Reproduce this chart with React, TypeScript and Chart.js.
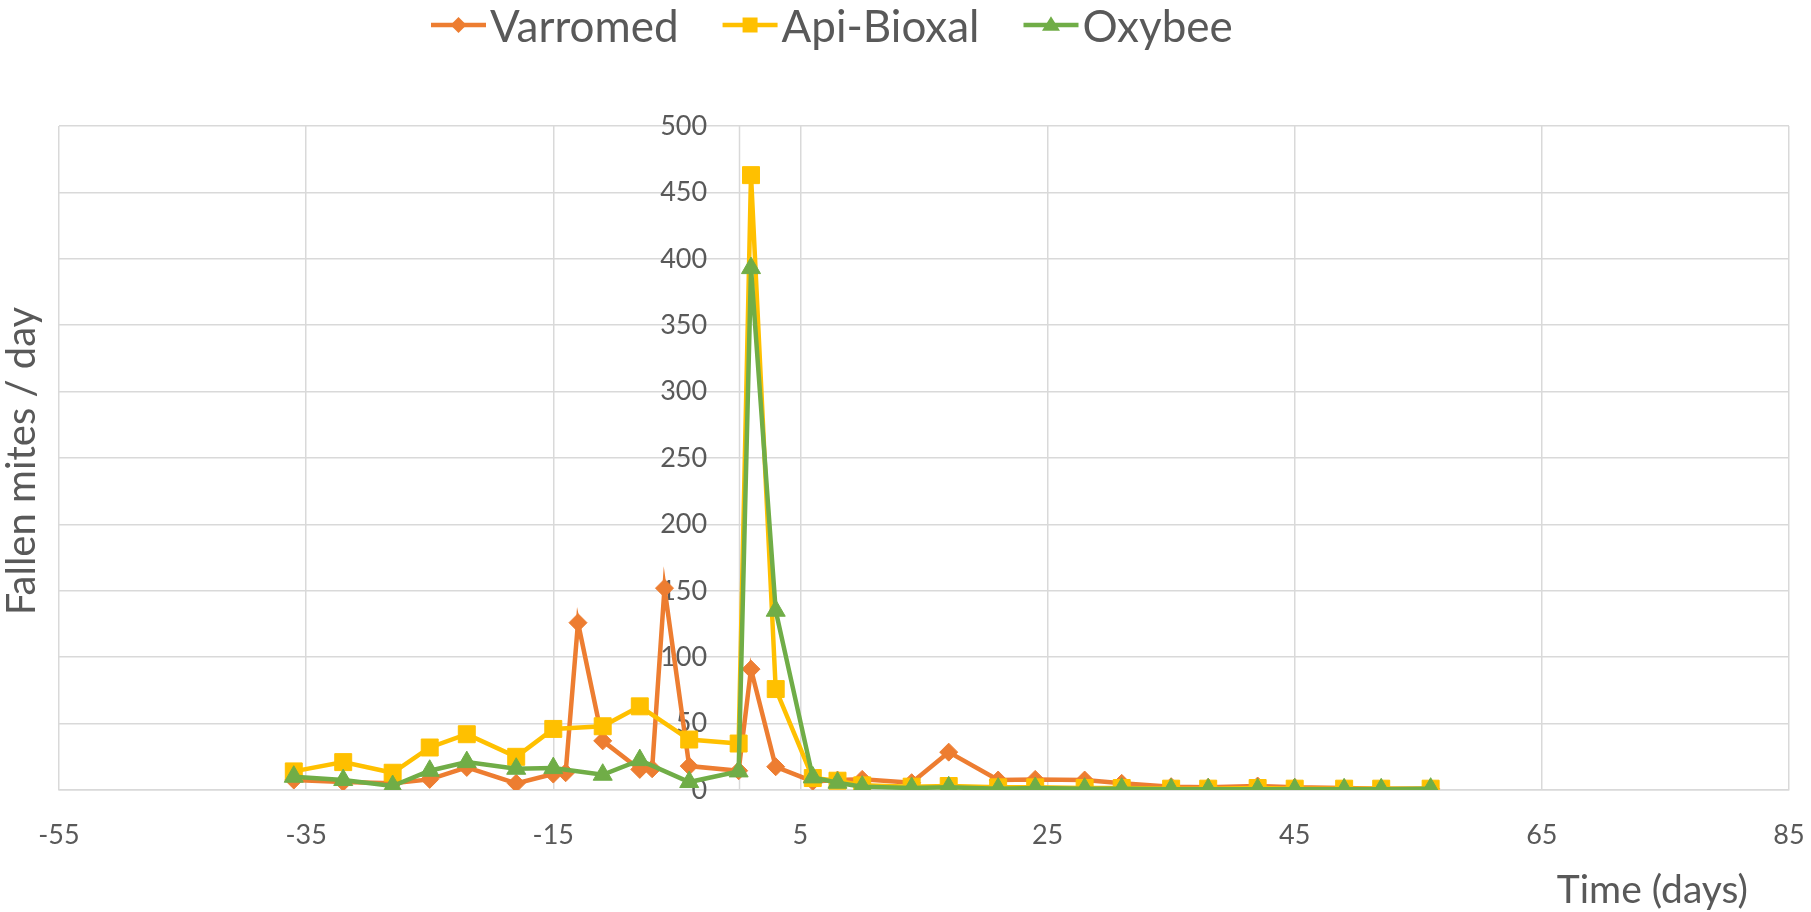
import React, { useEffect, useRef } from "react";
import { Chart, registerables } from "chart.js";

Chart.register(...registerables);

// ---------- data ----------
const seriesNames = ["Varromed", "Api-Bioxal", "Oxybee"];

const varromedDays = [-36, -32, -28, -25, -22, -18, -15, -14, -13, -11, -8, -7, -6, -4, 0, 1, 3, 6, 8, 10, 14, 17, 21, 24, 28, 31, 35, 38, 42, 45, 49, 52, 56];
const varromedValues = [7.5, 6, 5, 8, 17, 5, 12, 13, 126, 37, 15.5, 16, 152, 18, 14.5, 91, 17.5, 6.5, 7.5, 8, 5.5, 28.5, 7.5, 8, 7.5, 5, 2.5, 2, 3, 2, 1.5, 1, 1];

const apiBioxalDays = [-36, -32, -28, -25, -22, -18, -15, -11, -8, -4, 0, 1, 3, 6, 8, 10, 14, 17, 21, 24, 28, 31, 35, 38, 42, 45, 49, 52, 56];
const apiBioxalValues = [14, 21, 13, 32, 42, 25, 46, 48, 63, 38, 35, 463, 76, 9, 7, 3.5, 2.5, 3, 2, 2, 1.5, 1.5, 1, 1, 1.5, 1, 1, 1, 1];

const oxybeeDays = [-36, -32, -28, -25, -22, -18, -15, -11, -8, -4, 0, 1, 3, 6, 8, 10, 14, 17, 21, 24, 28, 31, 35, 38, 42, 45, 49, 52, 56];
const oxybeeValues = [10, 7.5, 3, 14.5, 21, 16, 16.5, 11.5, 22.5, 6, 14, 393, 135, 9.5, 5.5, 2.5, 1.5, 2, 1, 1.5, 1, 1, 0.5, 0.5, 0.5, 0.5, 0.5, 0.5, 1];

const xMin = -55;
const xMax = 85;
const xStep = 20;
const yMin = 0;
const yMax = 500;
const yStep = 50;
const yAxisCrossesAt = 0;

const xTitle = "Time (days)";
const yTitle = "Fallen mites / day";

// ---------- styles ----------
const colors = ["#ED7D31", "#FFC000", "#70AD47"];
const pointStyles = ["rectRot", "rect", "triangle"];
const pointRadii = [9, 12, 11];
const textColor = "#595959";
const gridColor = "#d9d9d9";
const FONT = "Lato, 'Open Sans', sans-serif";
const yLabelGapDays = 2.55; // shifts y tick labels left of the y axis line

function toPoints(xs: number[], ys: number[]) {
  return xs.map((x, i) => ({ x, y: ys[i] }));
}

function drawMarker(ctx: CanvasRenderingContext2D, style: string, x: number, y: number, r: number, color: string) {
  ctx.fillStyle = color;
  ctx.beginPath();
  if (style === "rectRot") {
    ctx.moveTo(x, y - r);
    ctx.lineTo(x + r, y);
    ctx.lineTo(x, y + r);
    ctx.lineTo(x - r, y);
  } else if (style === "rect") {
    ctx.rect(x - r, y - r, 2 * r, 2 * r);
  } else {
    const h = r * 1.6;
    ctx.moveTo(x, y - h * 0.6);
    ctx.lineTo(x + r, y + h * 0.4);
    ctx.lineTo(x - r, y + h * 0.4);
  }
  ctx.closePath();
  ctx.fill();
}

const yAxisLinePlugin = {
  id: "yAxisLine",
  beforeDatasetsDraw(chart: any) {
    const ctx: CanvasRenderingContext2D = chart.ctx;
    const { top, bottom } = chart.chartArea;
    const px = Math.round(chart.scales.x.getPixelForValue(yAxisCrossesAt)) + 0.5;
    ctx.save();
    ctx.strokeStyle = gridColor;
    ctx.lineWidth = 1.5;
    ctx.beginPath();
    ctx.moveTo(px, top);
    ctx.lineTo(px, bottom);
    ctx.stroke();
    ctx.restore();
  },
};

const overlayPlugin = {
  id: "overlayText",
  afterDraw(chart: any) {
    const ctx: CanvasRenderingContext2D = chart.ctx;
    ctx.save();
    // legend
    ctx.font = `44px ${FONT}`;
    let x = 431;
    const ly = 25;
    const legendMarkerSizes = [8, 7.5, 9];
    seriesNames.forEach((name, i) => {
      ctx.strokeStyle = colors[i];
      ctx.lineWidth = 4.5;
      ctx.beginPath();
      ctx.moveTo(x, ly);
      ctx.lineTo(x + 55, ly);
      ctx.stroke();
      drawMarker(ctx, pointStyles[i], x + 27.5, ly, legendMarkerSizes[i], colors[i]);
      ctx.fillStyle = textColor;
      ctx.textAlign = "left";
      ctx.textBaseline = "alphabetic";
      ctx.fillText(name, x + 59, 42);
      x += 59 + ctx.measureText(name).width + 44;
    });
    // x axis title
    ctx.font = `39px ${FONT}`;
    ctx.fillStyle = textColor;
    ctx.textAlign = "right";
    ctx.textBaseline = "alphabetic";
    ctx.fillText(xTitle, 1748, 903);
    // y axis title
    ctx.font = `40px ${FONT}`;
    ctx.translate(35, 461);
    ctx.rotate(-Math.PI / 2);
    ctx.textAlign = "center";
    ctx.fillText(yTitle, 0, 0);
    ctx.restore();
  },
};

export default function App() {
  const canvasRef = useRef<HTMLCanvasElement | null>(null);

  useEffect(() => {
    if (!canvasRef.current) return;
    const datasets = [
      { label: seriesNames[0], data: toPoints(varromedDays, varromedValues), order: 3 },
      { label: seriesNames[1], data: toPoints(apiBioxalDays, apiBioxalValues), order: 2 },
      { label: seriesNames[2], data: toPoints(oxybeeDays, oxybeeValues), order: 1 },
    ].map((d, i) => ({
      ...d,
      showLine: true,
      fill: false,
      tension: 0,
      borderColor: colors[i],
      backgroundColor: colors[i],
      borderWidth: 4.5,
      pointStyle: pointStyles[i],
      pointRadius: pointRadii[i],
      pointBorderWidth: 1,
      pointBackgroundColor: colors[i],
      pointBorderColor: colors[i],
    }));

    const chart = new Chart(canvasRef.current, {
      type: "scatter",
      data: { datasets: datasets as any },
      plugins: [yAxisLinePlugin as any, overlayPlugin as any],
      options: {
        animation: false,
        responsive: false,
        devicePixelRatio: 1,
        layout: { padding: { left: 59, right: 22, top: 126, bottom: 0 } },
        plugins: {
          legend: { display: false },
          tooltip: { enabled: false },
        },
        scales: {
          x: {
            type: "linear",
            min: xMin,
            max: xMax,
            afterFit: (scale: any) => {
              scale.height = 122;
              scale.paddingLeft = 0;
              scale.paddingRight = 0;
            },
            ticks: {
              stepSize: xStep,
              padding: 29,
              color: textColor,
              font: { family: FONT, size: 27 },
              maxRotation: 0,
            },
            grid: { color: gridColor, lineWidth: 1.5, drawTicks: false },
            border: { display: true, color: gridColor, width: 1.5 },
          },
          y: {
            type: "linear",
            min: yMin,
            max: yMax,
            position: { x: yAxisCrossesAt - yLabelGapDays } as any,
            ticks: {
              stepSize: yStep,
              padding: 30,
              color: textColor,
              font: { family: FONT, size: 27 },
            },
            grid: { color: gridColor, lineWidth: 1.5, drawTicks: false },
            border: { display: false },
          },
        },
      },
    });
    return () => chart.destroy();
  }, []);

  return (
    <div style={{ position: "absolute", left: 0, top: 0, width: 1811, height: 912, background: "#ffffff" }}>
      <canvas ref={canvasRef} width={1811} height={912} />
    </div>
  );
}
